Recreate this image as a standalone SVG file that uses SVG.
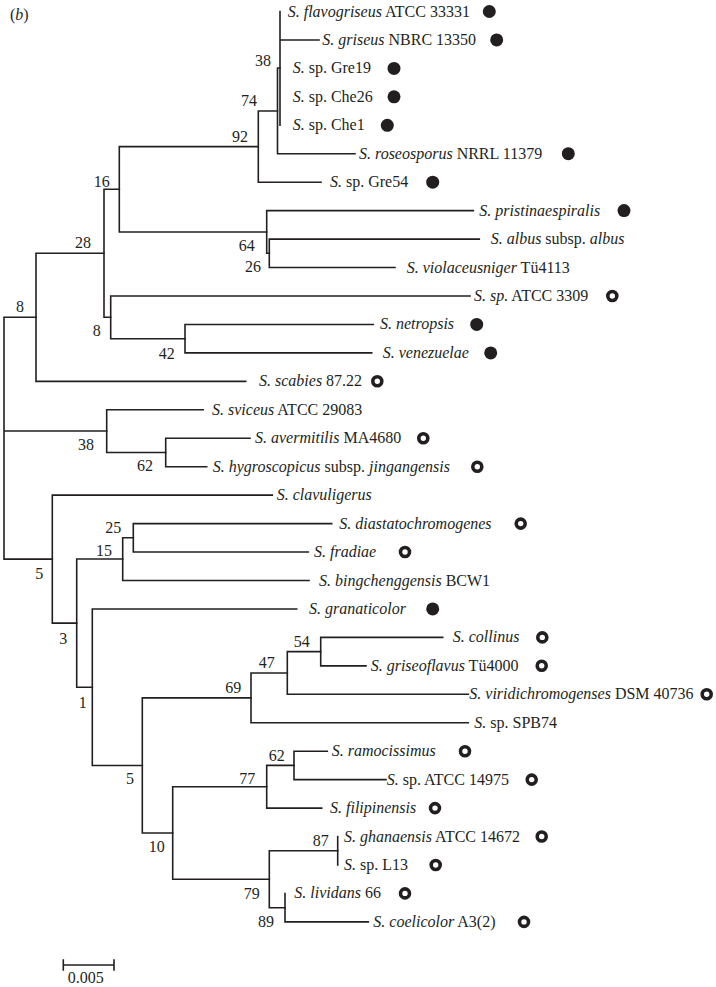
<svg xmlns="http://www.w3.org/2000/svg" width="716" height="987" viewBox="0 0 716 987">
<style>
.br{stroke:#231f20;stroke-width:1.6;fill:none;stroke-linecap:square}
.t{font-family:"Liberation Serif","Times New Roman",serif;font-size:16px;fill:#231f20}
.i{font-style:italic}
.bs{text-anchor:middle}
.dot{fill:#231f20}
.ring{fill:none;stroke:#231f20;stroke-width:3.6}
</style>
<rect width="716" height="987" fill="#ffffff"/>
<text class="t" x="10" y="20">(<tspan class="i">b</tspan>)</text>
<g id="connectors">
<path class="br" d="M4,317.3V559.1M4,317.3H36M4,431H106.7M4,559.1H52.3"/>
<path class="br" d="M36,253.3V381.35M36,253.3H104M36,381.35H245.7"/>
<path class="br" d="M104,189.3V317.3M104,189.3H119.3M104,317.3H110.7"/>
<path class="br" d="M119.3,146.6V232M119.3,146.6H258.3M119.3,232H266.7"/>
<path class="br" d="M258.3,111V182.2M258.3,111H277.5M258.3,182.2H321"/>
<path class="br" d="M277.5,68V153.75M277.5,68H280M277.5,153.75H355"/>
<path class="br" d="M280,11.5V125.3M280,39.95H319"/>
<path class="br" d="M266.7,210.65V253.3M266.7,210.65H473.3M266.7,253.3H269.3"/>
<path class="br" d="M269.3,239.1V267.55M269.3,239.1H479.3M269.3,267.55H395"/>
<path class="br" d="M110.7,296V338.7M110.7,296H470M110.7,338.7H185"/>
<path class="br" d="M185,324.45V352.9M185,324.45H373.3M185,352.9H371.7"/>
<path class="br" d="M106.7,409.8V452.5M106.7,409.8H203.3M106.7,452.5H165.7"/>
<path class="br" d="M165.7,438.25V466.7M165.7,438.25H250M165.7,466.7H206.7"/>
<path class="br" d="M52.3,495.15V623.1M52.3,495.15H272.3M52.3,623.1H76.7"/>
<path class="br" d="M76.7,559V687.2M76.7,559H122.7M76.7,687.2H92.3"/>
<path class="br" d="M122.7,537.8V580.5M122.7,537.8H133.3M122.7,580.5H309"/>
<path class="br" d="M133.3,523.6V552.05M133.3,523.6H331.7M133.3,552.05H308.3"/>
<path class="br" d="M92.3,608.95V765.5M92.3,608.95H296.7M92.3,765.5H142.3"/>
<path class="br" d="M142.3,697.9V833M142.3,697.9H251M142.3,833H172.7"/>
<path class="br" d="M251,673V722.75M251,673H287.3M251,722.75H468.3"/>
<path class="br" d="M287.3,651.6V694.3M287.3,651.6H320.7M287.3,694.3H468.3"/>
<path class="br" d="M320.7,637.4V665.85M320.7,637.4H442.7M320.7,665.85H366"/>
<path class="br" d="M172.7,786.8V879.2M172.7,786.8H266.7M172.7,879.2H269.3"/>
<path class="br" d="M266.7,765.4V808.1M266.7,765.4H294M266.7,808.1H321.7"/>
<path class="br" d="M294,751.2V779.65M294,751.2H327.3M294,779.65H386"/>
<path class="br" d="M269.3,850.8V907.7M269.3,850.8H337.7M269.3,907.7H285"/>
<path class="br" d="M337.7,836.55V865"/>
<path class="br" d="M285,893.45V921.9M285,921.9H368.3"/>
</g>
<g id="bootstrap" class="t bs">
<text x="263" y="65.5">38</text>
<text x="249" y="105.5">74</text>
<text x="240" y="142.2">92</text>
<text x="101.7" y="187.2">16</text>
<text x="83" y="248.2">28</text>
<text x="246.7" y="250.5">64</text>
<text x="253" y="272.2">26</text>
<text x="20" y="312.2">8</text>
<text x="96.7" y="335.5">8</text>
<text x="166.7" y="358.8">42</text>
<text x="86" y="449.5">38</text>
<text x="145" y="471.2">62</text>
<text x="113.3" y="533.2">25</text>
<text x="104" y="555.5">15</text>
<text x="39.3" y="578.8">5</text>
<text x="63.3" y="643.8">3</text>
<text x="301.7" y="647.2">54</text>
<text x="266.7" y="668.2">47</text>
<text x="233.3" y="692.8">69</text>
<text x="82.7" y="708.2">1</text>
<text x="276.7" y="760.5">62</text>
<text x="130" y="783.8">5</text>
<text x="247.3" y="783.8">77</text>
<text x="320.7" y="845.5">87</text>
<text x="156.7" y="851.5">10</text>
<text x="251.7" y="898.8">79</text>
<text x="266" y="927.2">89</text>
</g>
<g id="tip-flavogriseus"><text class="t" x="287.7" y="16.5"><tspan class="i">S. flavogriseus</tspan> ATCC 33331</text><circle class="dot" cx="489.3" cy="11.5" r="6.5"/></g>
<g id="tip-griseus"><text class="t" x="322.3" y="44.9"><tspan class="i">S. griseus</tspan> NBRC 13350</text><circle class="dot" cx="496.7" cy="39.9" r="6.5"/></g>
<g id="tip-gre19"><text class="t" x="292.7" y="73.4"><tspan class="i">S.</tspan> sp. Gre19</text><circle class="dot" cx="394" cy="68.4" r="6.5"/></g>
<g id="tip-che26"><text class="t" x="292.7" y="101.8"><tspan class="i">S.</tspan> sp. Che26</text><circle class="dot" cx="394" cy="96.8" r="6.5"/></g>
<g id="tip-che1"><text class="t" x="292.7" y="130.3"><tspan class="i">S.</tspan> sp. Che1</text><circle class="dot" cx="387.3" cy="125.3" r="6.5"/></g>
<g id="tip-roseosporus"><text class="t" x="359" y="158.7"><tspan class="i">S. roseosporus</tspan> NRRL 11379</text><circle class="dot" cx="568.3" cy="153.7" r="6.5"/></g>
<g id="tip-gre54"><text class="t" x="330" y="187.2"><tspan class="i">S.</tspan> sp. Gre54</text><circle class="dot" cx="432.7" cy="182.2" r="6.5"/></g>
<g id="tip-pristinaespiralis"><text class="t" x="479.3" y="215.6"><tspan class="i">S. pristinaespiralis</tspan></text><circle class="dot" cx="624" cy="210.6" r="6.5"/></g>
<g id="tip-albus"><text class="t" x="490.7" y="244.1"><tspan class="i">S. albus</tspan> subsp. <tspan class="i">albus</tspan></text></g>
<g id="tip-violaceusniger"><text class="t" x="406.7" y="272.5"><tspan class="i">S. violaceusniger</tspan> Tü4113</text></g>
<g id="tip-atcc3309"><text class="t" x="474" y="301"><tspan class="i">S. sp.</tspan> ATCC 3309</text><circle class="ring" cx="612.3" cy="296" r="4.5"/></g>
<g id="tip-netropsis"><text class="t" x="380" y="329.4"><tspan class="i">S. netropsis</tspan></text><circle class="dot" cx="476.7" cy="324.4" r="6.5"/></g>
<g id="tip-venezuelae"><text class="t" x="382.7" y="357.9"><tspan class="i">S. venezuelae</tspan></text><circle class="dot" cx="490.7" cy="352.9" r="6.5"/></g>
<g id="tip-scabies"><text class="t" x="259" y="386.3"><tspan class="i">S. scabies</tspan> 87.22</text><circle class="ring" cx="377.3" cy="381.3" r="4.5"/></g>
<g id="tip-sviceus"><text class="t" x="212" y="414.8"><tspan class="i">S. sviceus</tspan> ATCC 29083</text></g>
<g id="tip-avermitilis"><text class="t" x="255" y="443.2"><tspan class="i">S. avermitilis</tspan> MA4680</text><circle class="ring" cx="423.3" cy="438.2" r="4.5"/></g>
<g id="tip-hygroscopicus"><text class="t" x="212.7" y="471.7"><tspan class="i">S. hygroscopicus</tspan> subsp. <tspan class="i">jingangensis</tspan></text><circle class="ring" cx="477.3" cy="466.7" r="4.5"/></g>
<g id="tip-clavuligerus"><text class="t" x="276.7" y="500.1"><tspan class="i">S. clavuligerus</tspan></text></g>
<g id="tip-diastatochromogenes"><text class="t" x="339.3" y="528.6"><tspan class="i">S. diastatochromogenes</tspan></text><circle class="ring" cx="520.7" cy="523.6" r="4.5"/></g>
<g id="tip-fradiae"><text class="t" x="314" y="557"><tspan class="i">S. fradiae</tspan></text><circle class="ring" cx="405" cy="552" r="4.5"/></g>
<g id="tip-bingchenggensis"><text class="t" x="319" y="585.5"><tspan class="i">S. bingchenggensis</tspan> BCW1</text></g>
<g id="tip-granaticolor"><text class="t" x="309" y="613.9"><tspan class="i">S. granaticolor</tspan></text><circle class="dot" cx="432.7" cy="608.9" r="6.5"/></g>
<g id="tip-collinus"><text class="t" x="452.7" y="642.4"><tspan class="i">S. collinus</tspan></text><circle class="ring" cx="542.3" cy="637.4" r="4.5"/></g>
<g id="tip-griseoflavus"><text class="t" x="370.7" y="670.8"><tspan class="i">S. griseoflavus</tspan> Tü4000</text><circle class="ring" cx="541.7" cy="665.8" r="4.5"/></g>
<g id="tip-viridichromogenses"><text class="t" x="469.3" y="699.3"><tspan class="i">S. viridichromogenses</tspan> DSM 40736</text><circle class="ring" cx="706.7" cy="694.3" r="4.5"/></g>
<g id="tip-spb74"><text class="t" x="474.3" y="727.7"><tspan class="i">S.</tspan> sp. SPB74</text></g>
<g id="tip-ramocissimus"><text class="t" x="331.7" y="756.2"><tspan class="i">S. ramocissimus</tspan></text><circle class="ring" cx="465" cy="751.2" r="4.5"/></g>
<g id="tip-atcc14975"><text class="t" x="386.7" y="784.6"><tspan class="i">S.</tspan> sp. ATCC 14975</text><circle class="ring" cx="531.7" cy="779.6" r="4.5"/></g>
<g id="tip-filipinensis"><text class="t" x="330" y="813.1"><tspan class="i">S. filipinensis</tspan></text><circle class="ring" cx="435" cy="808.1" r="4.5"/></g>
<g id="tip-ghanaensis"><text class="t" x="344" y="841.5"><tspan class="i">S. ghanaensis</tspan> ATCC 14672</text><circle class="ring" cx="541.7" cy="836.5" r="4.5"/></g>
<g id="tip-l13"><text class="t" x="344" y="870"><tspan class="i">S.</tspan> sp. L13</text><circle class="ring" cx="435.7" cy="865" r="4.5"/></g>
<g id="tip-lividans"><text class="t" x="294.3" y="898.4"><tspan class="i">S. lividans</tspan> 66</text><circle class="ring" cx="405" cy="893.4" r="4.5"/></g>
<g id="tip-coelicolor"><text class="t" x="373.3" y="926.9"><tspan class="i">S. coelicolor</tspan> A3(2)</text><circle class="ring" cx="524" cy="921.9" r="4.5"/></g>
<g id="scale-bar">
<path class="br" d="M63.3,965H114M63.3,960V970M114,960V970"/>
<text class="t bs" x="85.7" y="983">0.005</text>
</g>
</svg>
